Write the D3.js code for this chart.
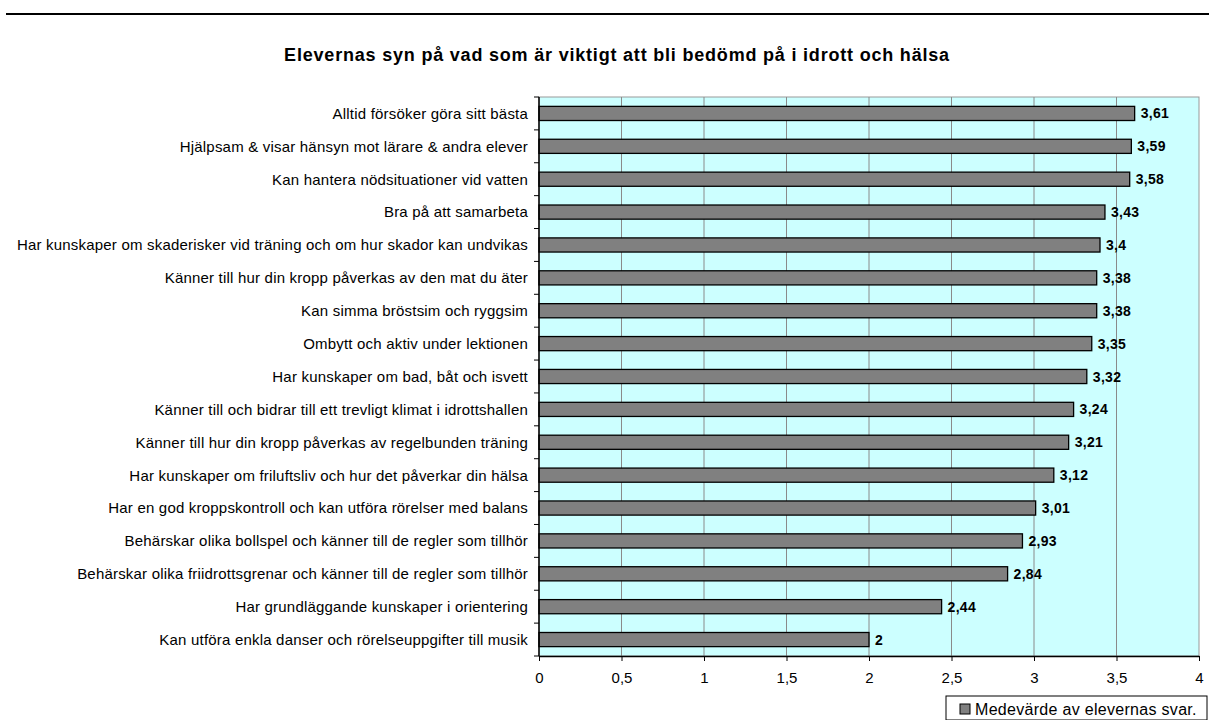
<!DOCTYPE html>
<html>
<head>
<meta charset="utf-8">
<script src="https://cdn.jsdelivr.net/npm/d3@7"></script>
<style>
  body { margin: 0; background: #fff; }
  svg { display: block; font-family: "Liberation Sans", Arial, sans-serif; }
</style>
</head>
<body>
<div id="chart"></div>
<script>
(() => {
  const categories = [
    "Alltid försöker göra sitt bästa",
    "Hjälpsam & visar hänsyn mot lärare & andra elever",
    "Kan hantera nödsituationer vid vatten",
    "Bra på att samarbeta",
    "Har kunskaper om skaderisker vid träning och om hur skador kan undvikas",
    "Känner till hur din kropp påverkas av den mat du äter",
    "Kan simma bröstsim och ryggsim",
    "Ombytt och aktiv under lektionen",
    "Har kunskaper om bad, båt och isvett",
    "Känner till och bidrar till ett trevligt klimat i idrottshallen",
    "Känner till hur din kropp påverkas av regelbunden träning",
    "Har kunskaper om friluftsliv och hur det påverkar din hälsa",
    "Har en god kroppskontroll och kan utföra rörelser med balans",
    "Behärskar olika bollspel och känner till de regler som tillhör",
    "Behärskar olika friidrottsgrenar och känner till de regler som tillhör",
    "Har grundläggande kunskaper i orientering",
    "Kan utföra enkla danser och rörelseuppgifter till musik"
  ];
  const values = [3.61, 3.59, 3.58, 3.43, 3.4, 3.38, 3.38, 3.35, 3.32, 3.24, 3.21, 3.12, 3.01, 2.93, 2.84, 2.44, 2];
  const xTicks = [0, 0.5, 1, 1.5, 2, 2.5, 3, 3.5, 4];
  const title = "Elevernas syn på vad som är viktigt att bli bedömd på i idrott och hälsa";
  const legendLabel = "Medevärde av elevernas svar.";

  const W = 1209, H = 720;
  const left = 539, right = 1199, top = 97, bottom = 656;
  const fmt = v => String(v).replace(".", ",");

  const svg = d3.select("#chart").append("svg")
    .attr("width", W).attr("height", H);

  // top rule
  svg.append("line")
    .attr("x1", 6).attr("x2", W).attr("y1", 14).attr("y2", 14)
    .attr("stroke", "#000").attr("stroke-width", 2);

  svg.append("text")
    .attr("x", 617).attr("y", 61)
    .attr("text-anchor", "middle")
    .style("font-size", "18px").style("font-weight", "bold")
    .style("letter-spacing", "0.8px")
    .text(title);

  const x = d3.scaleLinear().domain([0, 4]).range([left, right]);
  const y = d3.scaleBand().domain(categories).range([top, bottom])
    .paddingInner(0.57).paddingOuter(0.285);

  // plot area
  svg.append("rect")
    .attr("x", left).attr("y", top)
    .attr("width", right - left).attr("height", bottom - top)
    .attr("fill", "#ccffff").attr("stroke", "#999").attr("stroke-width", 1);

  // gridlines
  svg.append("g").selectAll("line")
    .data(xTicks.slice(1, -1))
    .join("line")
    .attr("x1", d => x(d)).attr("x2", d => x(d))
    .attr("y1", top).attr("y2", bottom)
    .attr("stroke", "#8a8a8a").attr("stroke-width", 1);

  // bars
  svg.append("g").selectAll("rect")
    .data(values)
    .join("rect")
    .attr("x", x(0))
    .attr("y", (d, i) => y(categories[i]))
    .attr("width", d => x(d) - x(0))
    .attr("height", y.bandwidth())
    .attr("fill", "#808080").attr("stroke", "#000").attr("stroke-width", 1.3);

  // value labels
  svg.append("g").selectAll("text")
    .data(values)
    .join("text")
    .attr("x", d => x(d) + 6)
    .attr("y", (d, i) => y(categories[i]) + y.bandwidth() / 2)
    .attr("dy", "0.36em")
    .style("font-size", "14px").style("font-weight", "bold")
    .style("letter-spacing", "0.3px")
    .text(d => fmt(d));

  // x axis
  const xAxis = svg.append("g")
    .attr("transform", `translate(0,${bottom})`)
    .call(d3.axisBottom(x).tickValues(xTicks).tickSize(5).tickSizeOuter(0).tickFormat(fmt));
  xAxis.select(".domain").attr("stroke", "#000").attr("stroke-width", 1.5);
  xAxis.selectAll(".tick line").attr("stroke", "#000");
  xAxis.selectAll("text").attr("y", 16).style("font-size", "15px")
    .style("font-family", "'Liberation Sans', Arial, sans-serif").attr("fill", "#000");

  // y axis line + ticks between categories
  svg.append("line")
    .attr("x1", left).attr("x2", left).attr("y1", top).attr("y2", bottom)
    .attr("stroke", "#000").attr("stroke-width", 1.5);
  const step = y.step();
  svg.append("g").selectAll("line")
    .data(d3.range(categories.length + 1))
    .join("line")
    .attr("x1", left - 5).attr("x2", left)
    .attr("y1", i => top + i * step).attr("y2", i => top + i * step)
    .attr("stroke", "#000");

  // category labels
  svg.append("g").selectAll("text")
    .data(categories)
    .join("text")
    .attr("x", left - 11)
    .attr("y", d => y(d) + y.bandwidth() / 2)
    .attr("dy", "0.36em")
    .attr("text-anchor", "end")
    .style("font-size", "15px")
    .style("letter-spacing", "0.2px")
    .text(d => d);

  // legend
  const lg = svg.append("g").attr("transform", "translate(946,696)");
  lg.append("rect")
    .attr("width", 261).attr("height", 24)
    .attr("fill", "#fff").attr("stroke", "#000");
  lg.append("rect")
    .attr("x", 14).attr("y", 8).attr("width", 10).attr("height", 10)
    .attr("fill", "#808080").attr("stroke", "#000");
  lg.append("text")
    .attr("x", 29).attr("y", 19)
    .style("font-size", "16px")
    .style("letter-spacing", "0.3px")
    .text(legendLabel);
})();
</script>
</body>
</html>
